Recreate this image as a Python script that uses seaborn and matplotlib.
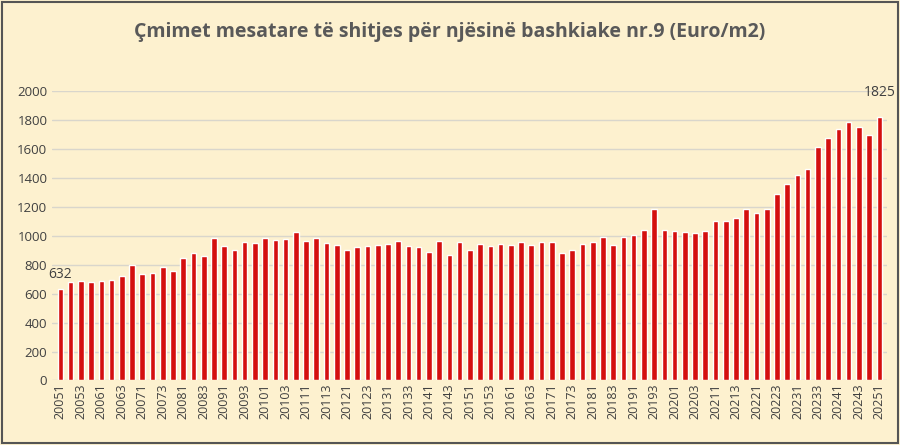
import matplotlib
matplotlib.use('Agg')
import matplotlib.pyplot as plt
import seaborn as sns
import pandas as pd

quarters = [f'{y}{q}' for y in range(2005, 2026) for q in range(1, 5)][:81]
prices = [632, 680, 690, 680, 690, 695, 720, 800, 735, 745,
          785, 760, 850, 880, 860, 985, 930, 900, 960, 950,
          985, 970, 975, 1030, 965, 985, 950, 940, 905, 925,
          930, 940, 945, 965, 930, 925, 890, 965, 870, 960,
          900, 945, 930, 945, 935, 955, 935, 960, 955, 880,
          905, 945, 955, 995, 935, 995, 1005, 1040, 1185, 1040,
          1035, 1030, 1020, 1035, 1100, 1105, 1125, 1185, 1160, 1185,
          1290, 1360, 1420, 1460, 1615, 1680, 1740, 1790, 1750, 1700, 1825]

df = pd.DataFrame({'Period': quarters, 'Price': prices})
bg = '#fdf1cf'

sns.set_style('whitegrid')
plt.rcParams['font.family'] = ['Open Sans', 'DejaVu Sans']
fig, ax = plt.subplots(figsize=(9, 4.45), dpi=100)
fig.patch.set_facecolor(bg)
ax.set_facecolor(bg)

sns.barplot(x='Period', y='Price', data=df, color='#d40f0f', width=0.55, ax=ax, saturation=1)

ax.set_ylim(0, 2000)
ax.set_yticks(range(0, 2001, 200))
ax.grid(axis='y', color='#d9d6cc', linewidth=1)
ax.grid(axis='x', visible=False)
for s in ax.spines.values():
    s.set_visible(False)
ax.set_xlabel('')
ax.set_ylabel('')
ax.set_xticks(range(0, len(quarters), 2))
ax.set_xticklabels(quarters[::2], rotation=90, fontsize=9, color='#404040')
ax.tick_params(axis='y', labelsize=9.5, colors='#404040', length=0)
ax.tick_params(axis='x', length=0, pad=2)
ax.set_xlim(-0.8, len(quarters) - 0.3)

ax.annotate(str(prices[0]), (0, prices[0]), xytext=(0, 5), textcoords='offset points',
            ha='center', va='bottom', fontsize=10, color='#404040')
ax.annotate(str(prices[-1]), (len(prices) - 1, prices[-1]), xytext=(0, 12), textcoords='offset points',
            ha='center', va='bottom', fontsize=10, color='#404040')

fig.suptitle('Çmimet mesatare të shitjes për njësinë bashkiake nr.9 (Euro/m2)',
             fontsize=14, fontweight='bold', color='#595959', y=0.95)
fig.subplots_adjust(left=0.058, right=0.985, top=0.795, bottom=0.145)
fig.add_artist(plt.Rectangle((0.002, 0.004), 0.996, 0.992, transform=fig.transFigure,
                             fill=False, edgecolor='#555555', linewidth=1.5))
fig.savefig('out.png', facecolor=bg)
